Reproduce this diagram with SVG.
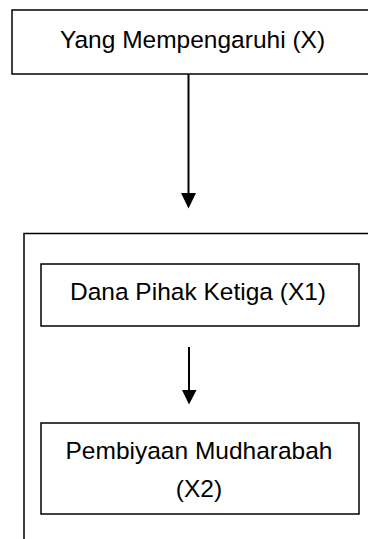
<svg xmlns="http://www.w3.org/2000/svg" width="368" height="539" viewBox="0 0 368 539">
<style>
.box{fill:#fff;stroke:#000;stroke-width:1.5}
.frame{fill:none;stroke:#000;stroke-width:1.5}
.lbl{font-family:"Liberation Sans",Arial,sans-serif;font-size:24.5px;fill:#000;text-anchor:middle}
.conn{stroke:#000;stroke-width:2;fill:none}
.head{fill:#000}
</style>
<rect width="368" height="539" fill="#fff"/>
<g id="node-x">
<rect class="box" x="12" y="10" width="362" height="64"/>
<text class="lbl" x="192.5" y="48">Yang Mempengaruhi (X)</text>
</g>
<g id="group-frame">
<rect class="frame" x="24" y="233.5" width="360" height="320"/>
</g>
<g id="node-x1">
<rect class="box" x="41" y="264" width="318" height="62"/>
<text class="lbl" x="198" y="300">Dana Pihak Ketiga (X1)</text>
</g>
<g id="node-x2">
<rect class="box" x="41" y="423" width="318" height="91"/>
<text class="lbl" x="199" y="459">Pembiyaan Mudharabah</text>
<text class="lbl" x="199" y="497">(X2)</text>
</g>
<g id="connectors">
<line class="conn" x1="188.5" y1="74" x2="188.5" y2="195"/>
<polygon class="head" points="181,193 196,193 188.5,208.5"/>
<line class="conn" x1="189" y1="347" x2="189" y2="392"/>
<polygon class="head" points="182,390 196.5,390 189,404.5"/>
</g>
</svg>
